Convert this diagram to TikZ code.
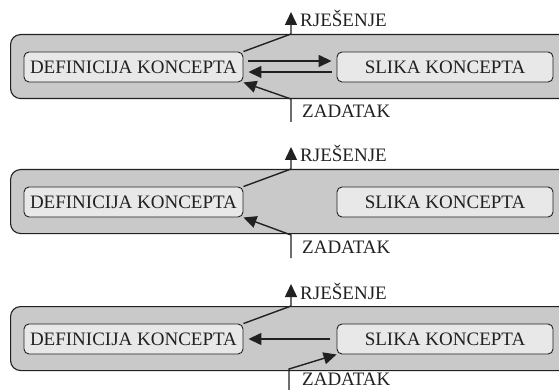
\documentclass[tikz,border=0pt]{standalone}
\usepackage{fontspec}
\setmainfont{Liberation Serif}
\usetikzlibrary{arrows.meta}
\definecolor{outerfill}{gray}{0.79}
\definecolor{innerfill}{gray}{0.91}
\definecolor{ink}{gray}{0.13}
\tikzset{
  panelbox/.style={draw=ink, line width=1.1pt, fill=outerfill, rounded corners=10pt,
    minimum width=565pt, minimum height=64pt, anchor=north west, inner sep=0pt},
  conceptbox/.style={draw=ink, line width=0.9pt, fill=innerfill, rounded corners=5pt,
    minimum height=30pt, inner sep=0pt, text=ink, font=\fontsize{19}{21}\selectfont},
  flow/.style={draw=ink, line width=1.4pt, -{Triangle[length=13pt,width=12pt]}},
  lbl/.style={anchor=base west, inner sep=0pt, text=ink, font=\fontsize{19}{21}\selectfont}
}
\begin{document}
\begin{tikzpicture}[x=1pt,y=-1pt]
\useasboundingbox (0,0) rectangle (559,390);
\foreach \i/\d/\zb in {1/0/118,2/135/253,3/272/385}{
  \node[panelbox] (panel\i) at (10,34+\d) {};
  \node[conceptbox, minimum width=219pt] (def\i) at (133.5,67+\d) {DEFINICIJA KONCEPTA};
  \node[conceptbox, minimum width=216pt] (sl\i) at (445,67+\d) {SLIKA KONCEPTA};
  \coordinate (rjm\i) at (291,34+\d);
  \coordinate (rjtop\i) at (291,12+\d);
  \node[lbl] (rjlbl\i) at (300,27+\d) {RJEŠENJE};
  \node[lbl] (zdlbl\i) at (302,\zb) {ZADATAK};
  \draw[flow] (def\i.north east) -- (rjm\i) -- (rjtop\i);
}
% panel 1
\coordinate (zbot1) at (291,122);
\coordinate (zmid1) at (291,99);
\draw[flow] (zbot1) -- (zmid1) -- (def1.south east);
\draw[flow] ([xshift=5pt,yshift=6pt]def1.east) -- ([xshift=-5pt,yshift=6pt]sl1.west);
\draw[flow] ([xshift=-5pt,yshift=-5pt]sl1.west) -- ([xshift=5pt,yshift=-5pt]def1.east);
% panel 2
\coordinate (zbot2) at (291,258);
\coordinate (zmid2) at (291,235);
\draw[flow] (zbot2) -- (zmid2) -- (def2.south east);
% panel 3
\coordinate (zbot3) at (289,395);
\coordinate (zmid3) at (289,369);
\draw[flow] (zbot3) -- (zmid3) -- (sl3.south west);
\draw[flow] ([xshift=-7pt]sl3.west) -- ([xshift=5pt]def3.east);
\end{tikzpicture}
\end{document}
